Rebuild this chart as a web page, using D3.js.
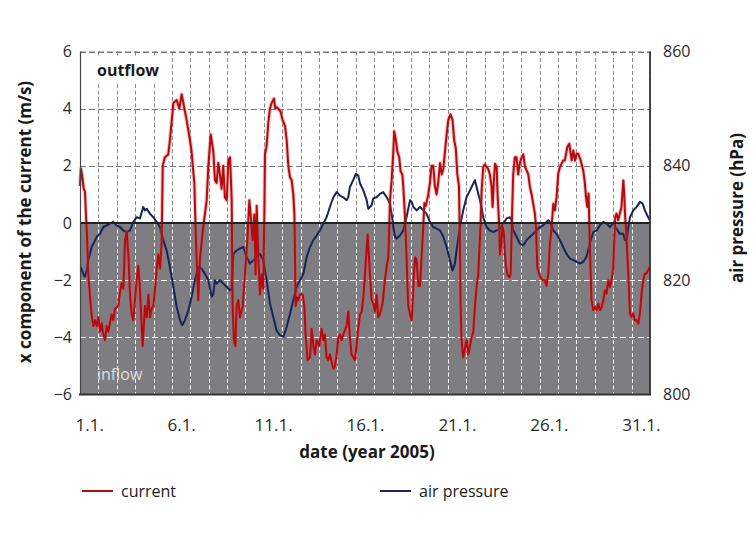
<!DOCTYPE html>
<html><head><meta charset="utf-8">
<script src="https://cdn.jsdelivr.net/npm/d3@7"></script>
<style>
html,body{margin:0;padding:0;background:#fff;}
svg text{font-family:"Open Sans","DejaVu Sans",sans-serif;}
</style></head>
<body><svg id="chart" width="755" height="559"></svg>
<script>
// ---- data (days since 1 Jan 2005 00:00) ----
const currentDays = [0.00,0.05,0.13,0.20,0.27,0.33,0.38,0.45,0.55,0.63,0.73,0.82,0.91,1.00,1.09,1.18,1.27,1.36,1.45,1.54,1.63,1.72,1.81,1.90,2.08,2.18,2.27,2.36,2.45,2.54,2.63,2.72,2.81,2.90,2.99,3.08,3.17,3.26,3.35,3.41,3.48,3.53,3.63,3.72,3.81,3.90,3.99,4.08,4.17,4.26,4.35,4.44,4.50,4.62,4.80,4.89,5.08,5.26,5.40,5.53,5.62,5.80,5.98,6.07,6.16,6.22,6.30,6.43,6.53,6.71,6.89,6.98,7.11,7.25,7.34,7.43,7.52,7.61,7.70,7.79,7.88,7.98,8.07,8.16,8.25,8.30,8.37,8.45,8.52,8.61,8.70,8.85,8.97,9.10,9.21,9.28,9.39,9.48,9.55,9.61,9.70,9.79,
9.88,9.97,10.03,10.06,10.15,10.24,10.33,10.42,10.55,10.62,10.69,10.78,10.91,11.02,11.15,11.24,11.33,11.42,11.51,11.60,11.66,11.73,11.80,11.87,11.96,12.11,12.20,12.27,12.38,12.51,12.60,12.69,12.78,12.87,13.01,13.14,13.23,13.32,13.41,13.50,13.59,13.68,13.78,13.87,13.96,14.05,14.14,14.23,14.32,14.50,14.59,14.68,14.77,14.86,14.95,15.04,15.13,15.23,15.32,15.41,15.50,15.59,15.64,15.70,15.77,15.86,15.95,16.04,16.13,16.22,16.31,16.46,16.58,16.68,16.77,16.86,16.95,17.04,17.09,17.18,17.26,17.36,17.44,17.53,17.58,17.67,17.76,17.85,17.95,18.04,18.09,18.16,18.23,18.31,18.40,18.49,18.58,18.67,18.73,18.81,18.94,19.03,19.12,19.21,19.30,19.39,19.48,19.58,19.67,19.76,19.85,19.94,20.03,20.15,20.26,20.35,20.44,20.52,20.61,20.66,
20.70,20.75,20.84,20.93,21.02,21.12,21.21,21.30,21.39,21.48,21.57,21.66,21.71,21.79,21.84,21.93,22.02,22.11,22.20,22.29,22.38,22.44,22.51,22.57,22.66,22.71,22.80,22.84,22.93,22.98,23.06,23.11,23.17,23.24,23.35,23.42,23.51,23.56,23.65,23.74,23.83,23.92,24.02,24.11,24.20,24.29,24.38,24.47,24.56,24.65,24.74,24.80,24.87,24.96,25.05,25.16,25.28,25.37,25.47,25.56,25.65,25.74,25.83,25.92,26.01,26.10,26.19,26.28,26.37,26.50,26.61,26.74,26.83,26.92,27.01,27.10,27.23,27.37,27.46,27.52,27.59,27.66,27.73,27.82,27.91,28.00,28.10,28.19,28.28,28.37,28.46,28.55,28.64,28.73,28.82,28.91,29.00,29.06,29.11,29.18,29.27,29.36,29.45,29.55,29.60,29.64,29.73,29.82,29.91,30.00,30.09,30.18,30.27,30.36,30.45,30.54,30.63,30.72,30.81,30.90,30.99];
const currentValues = [1.3,1.9,1.6,1.2,1.1,0.2,-0.4,-1.8,-2.6,-3.2,-3.6,-3.4,-3.6,-3.3,-3.8,-3.5,-3.9,-4.1,-3.6,-3.8,-3.5,-3.2,-3.4,-3.0,-2.9,-2.4,-2.1,-2.3,-0.6,-0.3,-1.1,-2.5,-3.2,-3.4,-2.7,-2.0,-1.5,-2.3,-3.6,-4.3,-3.5,-2.9,-3.3,-2.5,-3.3,-3.0,-2.9,-2.3,-1.6,-1.1,-1.6,-0.7,2.0,2.3,2.4,2.9,4.2,4.3,4.0,4.5,4.2,3.6,2.9,2.5,1.8,1.4,-0.5,-2.7,-1.2,-0.1,0.8,2.0,3.1,2.5,1.5,1.4,2.1,1.7,1.2,2.0,0.9,0.8,2.2,2.3,0.8,-2.9,-4.1,-4.3,-2.9,-2.7,-3.3,-2.9,-1.8,-0.6,0.8,0.3,-0.6,0.3,-1.8,0.6,-1.2,-2.5,
-1.8,-2.3,0.5,2.4,2.7,3.5,4.0,4.2,4.35,4.0,4.05,4.0,3.9,3.6,3.4,2.9,2.0,1.6,1.5,1.0,0.3,-2.9,-2.6,-2.7,-2.5,-2.5,-2.9,-3.9,-4.8,-4.7,-3.7,-4.3,-4.6,-4.1,-4.3,-3.7,-4.1,-3.9,-4.7,-4.8,-4.6,-4.85,-5.1,-5.0,-4.6,-4.0,-3.9,-4.1,-3.9,-3.6,-3.1,-4.0,-4.6,-4.7,-4.8,-4.3,-3.7,-3.2,-3.1,-2.6,-1.8,-0.9,-0.4,-1.0,-1.8,-2.7,-2.8,-3.1,-2.5,-3.3,-3.2,-2.8,-2.0,-1.5,-1.2,0.8,1.5,2.5,3.2,2.9,2.5,2.3,1.8,1.7,1.3,0.3,-1.2,-2.9,-3.2,-3.4,-2.8,-1.8,-1.2,-1.3,-2.2,-2.2,-1.2,-0.1,0.7,0.6,1.0,1.4,2.0,2.0,1.3,1.0,1.4,2.1,1.7,1.9,2.5,3.1,3.6,3.8,3.6,2.9,2.6,1.7,1.3,-0.6,
-2.9,-4.1,-4.7,-4.4,-4.1,-4.6,-4.3,-4.0,-3.8,-2.9,-2.2,-1.8,-1.1,0.0,1.1,1.96,2.05,1.96,1.9,1.7,1.3,0.56,1.5,2.07,1.96,1.0,-0.1,-1.1,-0.6,-0.1,-0.4,-1.1,-1.5,-1.8,-1.9,-1.8,0.6,1.7,2.3,2.3,1.7,2.1,2.3,2.4,1.96,1.84,1.7,1.26,1.0,0.67,0.33,-0.14,-1.54,-1.77,-1.9,-2.0,-2.0,-2.2,-1.77,-0.72,-0.14,0.67,0.44,0.91,1.72,1.96,2.07,2.19,2.19,2.65,2.77,2.19,2.54,2.19,2.42,2.42,2.19,1.84,1.38,0.91,0.56,1.03,-0.84,-2.7,-3.05,-2.94,-3.05,-2.82,-3.05,-2.94,-2.7,-2.35,-2.47,-2.0,-2.24,-2.0,-1.54,-0.49,0.21,0.33,0.1,0.33,0.56,1.49,1.0,0.33,-0.61,-1.77,-3.17,-3.29,-3.17,-3.4,-3.4,-3.52,-3.17,-2.47,-2.0,-1.77,-1.77,-1.65,-1.54];

const pressureDays = [0.04,0.18,0.27,0.36,0.45,0.54,0.63,0.73,0.91,1.09,1.27,1.45,1.63,1.81,1.99,2.18,2.36,2.54,2.72,2.90,3.08,3.26,3.44,3.53,3.63,3.81,3.99,4.17,4.35,4.53,4.71,4.89,5.08,5.26,5.44,5.56,5.71,5.89,6.07,6.25,6.43,6.62,6.80,6.98,7.16,7.25,7.34,7.43,7.61,7.79,7.98,8.16,8.25,8.34,8.52,8.70,8.88,9.06,9.24,9.43,9.61,9.79,
9.97,10.15,10.33,10.51,10.69,10.87,11.06,11.24,11.42,11.60,11.78,11.96,12.15,12.33,12.51,12.69,12.87,13.05,13.23,13.41,13.59,13.78,13.96,14.14,14.32,14.50,14.59,14.68,14.86,15.00,15.13,15.23,15.41,15.59,15.68,15.86,15.95,16.13,16.31,16.49,16.68,16.86,16.95,17.04,17.13,17.22,17.40,17.58,17.76,17.95,18.04,18.13,18.31,18.49,18.67,18.85,19.03,19.21,19.39,19.58,19.76,19.94,20.12,20.26,20.39,20.48,20.66,
20.84,21.02,21.21,21.39,21.48,21.57,21.66,21.75,21.84,21.93,22.11,22.29,22.48,22.66,22.84,23.02,23.20,23.38,23.47,23.56,23.74,23.92,24.11,24.29,24.47,24.65,24.83,25.01,25.19,25.37,25.47,25.56,25.74,25.92,26.10,26.28,26.46,26.64,26.83,27.01,27.19,27.37,27.55,27.73,27.91,28.10,28.28,28.46,28.64,28.82,29.00,29.18,29.36,29.55,29.64,29.73,29.82,29.91,30.09,30.27,30.45,30.60,30.72,30.90,30.99];
const pressureValues = [822.3,821.1,820.6,821.7,823.5,824.6,825.8,826.4,827.6,828.1,829.3,829.6,829.9,830.2,829.6,829.3,828.7,828.4,828.7,830.2,831.0,830.8,832.8,832.2,832.5,831.6,831.0,830.2,829.3,827.0,825.2,822.3,818.8,815.3,813.0,812.1,813.0,814.7,817.1,820.0,822.3,822.0,821.1,820.0,817.1,817.6,820.0,819.4,820.0,819.4,818.8,818.2,818.5,824.6,825.2,825.5,825.8,824.1,822.9,823.5,824.1,824.6,
823.5,820.0,815.9,813.6,811.2,810.4,810.1,811.8,814.1,816.5,818.8,820.0,821.1,824.1,825.8,827.0,827.8,828.7,829.9,831.0,832.8,834.5,835.4,834.8,834.5,834.0,834.5,836.3,837.5,838.6,838.3,836.9,835.7,834.0,832.5,833.1,834.3,834.5,835.1,835.4,834.5,833.4,831.6,829.3,827.6,827.3,827.8,828.7,831.0,834.0,833.7,832.8,832.2,832.8,832.2,831.6,830.2,829.3,829.0,828.7,827.6,825.8,823.5,821.7,822.9,825.2,829.3,
832.2,834.5,835.7,836.9,837.5,836.3,835.1,834.0,832.8,831.0,829.3,828.7,828.4,828.7,829.0,829.9,830.8,831.0,830.5,828.7,827.6,826.4,826.1,827.0,827.6,828.1,828.7,829.3,829.6,830.2,830.5,830.2,828.7,828.1,827.0,825.8,824.6,823.8,823.5,823.2,822.9,823.2,824.1,826.4,828.4,828.7,829.6,830.2,829.9,829.3,829.9,829.0,828.1,828.1,827.0,827.0,829.3,831.0,832.2,832.8,833.7,833.4,832.2,831.0,830.5];

const leftTicks = [6,4,2,0,-2,-4,-6];
const rightTicks = [860,840,820,800];
const dateLabels = ["1.1.","6.1.","11.1.","16.1.","21.1.","26.1.","31.1."];
const dateLabelDays = [1,6,11,16,21,26,31];
const seriesNames = ["current","air pressure"];
const seriesColors = ["#b20c10","#16245a"];

// ---- layout ----
const L = 80, R = 650, T = 51.5, B = 394.5;
const t0 = Date.UTC(2005,0,1);
const toDate = d => new Date(t0 + d*86400000);

const x = d3.scaleUtc().domain([new Date(t0), new Date(Date.UTC(2005,1,1))]).range([L,R]);
const y = d3.scaleLinear().domain([-6,6]).range([B,T]);
const y2 = d3.scaleLinear().domain([800,860]).range([B,T]);

const svg = d3.select("#chart");

// background regions
svg.append("rect").attr("x",L).attr("y",T).attr("width",R-L).attr("height",y(0)-T).attr("fill","#ffffff");
svg.append("rect").attr("x",L).attr("y",y(0)).attr("width",R-L).attr("height",B-y(0)).attr("fill","#7e7e82");

// vertical day gridlines
const dayLines = d3.utcDay.range(toDate(1), toDate(31.01));
const g = svg.append("g");
dayLines.forEach(dt => {
  const xx = Math.round(x(dt))+0.5;
  g.append("line").attr("x1",xx).attr("x2",xx).attr("y1",T).attr("y2",y(0))
    .attr("stroke","#8a8a8a").attr("stroke-width",1).attr("stroke-dasharray","4,2.5");
  g.append("line").attr("x1",xx).attr("x2",xx).attr("y1",y(0)).attr("y2",B)
    .attr("stroke","#f2f2f2").attr("stroke-width",1).attr("stroke-dasharray","4,2.5");
});
// horizontal gridlines
leftTicks.filter(v => v!==0 && v!==-6).forEach(v => {
  g.append("line").attr("x1",L).attr("x2",R).attr("y1",Math.round(y(v))+0.5).attr("y2",Math.round(y(v))+0.5)
    .attr("stroke", v>0 ? "#777" : "#f4f4f4").attr("stroke-width",1).attr("stroke-dasharray","6,3");
});

// outflow label with white background
svg.append("rect").attr("x",88).attr("y",57).attr("width",82).attr("height",25).attr("fill","#fff");
svg.append("text").attr("x",97).attr("y",76).attr("font-size",16).attr("font-weight","bold").attr("fill","#1a1a1a").text("outflow");
svg.append("text").attr("x",97).attr("y",380).attr("font-size",16).attr("fill","#dcdcdc").text("inflow");

// lines
const curData = currentDays.map((d,i)=>[d,currentValues[i]]);
const presData = pressureDays.map((d,i)=>[d,pressureValues[i]]);
const lineC = d3.line().x(d=>x(toDate(d[0]))).y(d=>y(d[1]));
const lineP = d3.line().x(d=>x(toDate(d[0]))).y(d=>y2(d[1]));

svg.append("path").datum(presData).attr("d",lineP).attr("fill","none")
  .attr("stroke",seriesColors[1]).attr("stroke-width",2).attr("stroke-linejoin","round");
svg.append("path").datum(curData).attr("d",lineC).attr("fill","none")
  .attr("stroke","#e05050").attr("stroke-opacity",0.35).attr("stroke-width",4).attr("stroke-linejoin","round");
svg.append("path").datum(curData).attr("d",lineC).attr("fill","none")
  .attr("stroke",seriesColors[0]).attr("stroke-width",2).attr("stroke-linejoin","round");

// frame lines
svg.append("line").attr("x1",L).attr("x2",R).attr("y1",T+0.5).attr("y2",T+0.5)
  .attr("stroke","#777").attr("stroke-width",1).attr("stroke-dasharray","6,3");
svg.append("line").attr("x1",L).attr("x2",R).attr("y1",y(0)).attr("y2",y(0)).attr("stroke","#222").attr("stroke-width",2);
svg.append("line").attr("x1",L-1).attr("x2",R+1).attr("y1",B).attr("y2",B).attr("stroke","#333").attr("stroke-width",2);
svg.append("line").attr("x1",L+0.5).attr("x2",L+0.5).attr("y1",T).attr("y2",B).attr("stroke","#444").attr("stroke-width",1.2);
svg.append("line").attr("x1",R).attr("x2",R).attr("y1",T).attr("y2",B).attr("stroke","#333").attr("stroke-width",1.8);

// axes (labels only)
const axL = d3.axisLeft(y).tickValues(leftTicks).tickSize(0).tickPadding(8);
const gL = svg.append("g").attr("transform",`translate(${L},0)`).call(axL);
const axR = d3.axisRight(y2).tickValues(rightTicks).tickSize(0).tickPadding(13);
const gR = svg.append("g").attr("transform",`translate(${R},0)`).call(axR);
const axB = d3.axisBottom(x).tickValues(dateLabelDays.map(d=>toDate(d-0.5))).tickFormat((d,i)=>dateLabels[i]).tickSize(0).tickPadding(24);
const gB = svg.append("g").attr("transform",`translate(0,${B})`).call(axB);
[gL,gR,gB].forEach(a=>{
  a.select(".domain").remove();
  a.selectAll("text").attr("font-family",'"Open Sans","DejaVu Sans",sans-serif').attr("fill","#2a2a2a");
});
gL.selectAll("text").attr("font-size",16);
gR.selectAll("text").attr("font-size",16);
gB.selectAll("text").attr("font-size",17);

// axis titles
svg.append("text").attr("transform","translate(31,222) rotate(-90)").attr("text-anchor","middle")
  .attr("font-size",17).attr("font-weight","bold").attr("fill","#1a1a1a").text("x component of the current (m/s)");
svg.append("text").attr("transform","translate(743,208) rotate(-90)").attr("text-anchor","middle")
  .attr("font-size",17).attr("font-weight","bold").attr("fill","#1a1a1a").text("air pressure (hPa)");
svg.append("text").attr("x",367).attr("y",458).attr("text-anchor","middle")
  .attr("font-size",17).attr("font-weight","bold").attr("fill","#1a1a1a").text("date (year 2005)");

// legend
const legX = [82,380];
seriesNames.forEach((n,i)=>{
  svg.append("line").attr("x1",legX[i]).attr("x2",legX[i]+31).attr("y1",491).attr("y2",491)
    .attr("stroke",seriesColors[i]).attr("stroke-width",2);
  svg.append("text").attr("x",legX[i]+39).attr("y",497).attr("font-size",16).attr("fill","#1a1a1a").text(n);
});
</script></body></html>
